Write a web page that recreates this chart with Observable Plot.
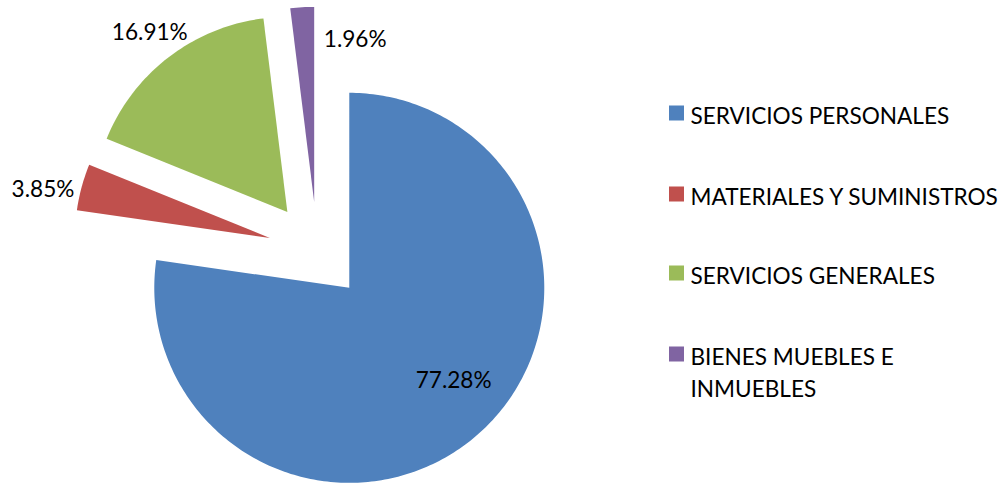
<!DOCTYPE html>
<html><head><meta charset="utf-8">
<script src="https://cdn.jsdelivr.net/npm/d3@7"></script>
<script src="https://cdn.jsdelivr.net/npm/@observablehq/plot@0.6"></script>
<style>body{margin:0;background:#fff;overflow:hidden}</style>
</head><body><div id="chart"></div>
<script>
// ---- data ----
const categories = ["SERVICIOS PERSONALES", "MATERIALES Y SUMINISTROS", "SERVICIOS GENERALES", "BIENES MUEBLES E INMUEBLES"];
const shares = [77.28, 3.85, 16.91, 1.96];
const valueLabels = ["77.28%", "3.85%", "16.91%", "1.96%"];
const legendLabels = ["SERVICIOS PERSONALES", "MATERIALES Y SUMINISTROS", "SERVICIOS GENERALES", "BIENES MUEBLES E\nINMUEBLES"];
const colors = ["#4F81BD", "#C0504D", "#9BBB59", "#8064A2"];

// ---- layout ----
const W = 1007, H = 484;
const cx = 316.7, cy = 250.3, R = 195, explode = 49;
const labelPolar = [[131.8, 140], [282.0, 232], [322.5, 226], [14.2, 167]]; // [deg, dist] from slice apex
const legendX = 669, legendSq = 15, legendTextX = 690;
const legendRowY = [113, 194, 273, 354];
const fontSize = 22.6, lineHeight = 1.42;

const rad = d => d * Math.PI / 180;
const total = d3.sum(shares);
let acc = 0;
const slices = categories.map((c, i) => {
  const a0 = acc / total * 360;
  acc += shares[i];
  const a1 = acc / total * 360;
  const am = (a0 + a1) / 2;
  const ax = cx + explode * Math.sin(rad(am));
  const ay = cy - explode * Math.cos(rad(am));
  return {category: c, a0, a1, ax, ay, i};
});

const polyPts = [];
for (const s of slices) {
  polyPts.push({category: s.category, x: s.ax, y: s.ay});
  const n = Math.max(2, Math.ceil(s.a1 - s.a0));
  for (let k = 0; k <= n; k++) {
    const a = s.a0 + (s.a1 - s.a0) * k / n;
    polyPts.push({category: s.category, x: s.ax + R * Math.sin(rad(a)), y: s.ay - R * Math.cos(rad(a))});
  }
  polyPts.push({category: s.category, x: s.ax, y: s.ay});
}

const labelData = slices.map(s => {
  const [deg, dist] = labelPolar[s.i];
  return {text: valueLabels[s.i], x: s.ax + dist * Math.sin(rad(deg)), y: s.ay - dist * Math.cos(rad(deg))};
});

const legendData = categories.map((c, i) => {
  const lines = legendLabels[i].split("\n").length;
  return {category: c, text: legendLabels[i], y: legendRowY[i], ty: legendRowY[i] + (lines - 1) * lineHeight * fontSize / 2};
});

const chart = Plot.plot({
  width: W, height: H, margin: 0,
  style: {fontFamily: "Lato, 'Open Sans', sans-serif", background: "#fff"},
  x: {domain: [0, W], range: [0, W], axis: null},
  y: {domain: [0, H], range: [0, H], axis: null},
  color: {domain: categories, range: colors},
  marks: [
    Plot.line(polyPts, {x: "x", y: "y", z: "category", fill: "category", stroke: "none", curve: "linear"}),
    Plot.text(labelData, {x: "x", y: "y", text: "text", fontSize, fill: "#000", textAnchor: "middle"}),
    Plot.rect(legendData, {x1: () => legendX, x2: () => legendX + legendSq, y1: d => d.y - legendSq / 2, y2: d => d.y + legendSq / 2, fill: "category"}),
    Plot.text(legendData, {x: () => legendTextX, y: "ty", text: "text", fontSize, fill: "#000", textAnchor: "start", lineAnchor: "middle", lineHeight})
  ]
});
document.getElementById("chart").appendChild(chart);
</script>
</body></html>
